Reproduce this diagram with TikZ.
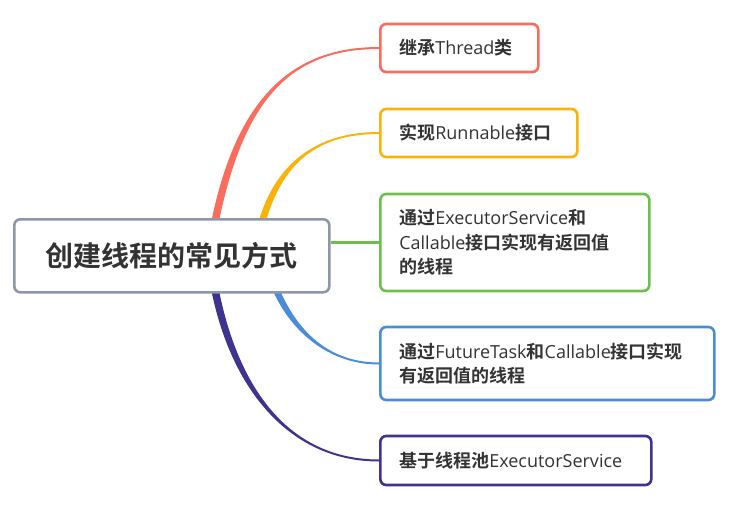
\documentclass[tikz,border=0pt]{standalone}
\usepackage{fontspec}
\setmainfont{Open Sans}
\newfontfamily\cjk{Noto Sans CJK SC}[BoldFont={Noto Sans CJK SC Bold}]
\usetikzlibrary{calc}
\newcommand\zh[1]{{\cjk\bfseries #1}}
\definecolor{cred}{HTML}{F96C5E}
\definecolor{corange}{HTML}{FBB30C}
\definecolor{cgreen}{HTML}{6CC04A}
\definecolor{cblue}{HTML}{4A8CDA}
\definecolor{cpurple}{HTML}{3E3390}
\definecolor{cgray}{HTML}{8E97A8}
\definecolor{ctext}{HTML}{333333}
\pgfdeclarelayer{bg}
\pgfsetlayers{bg,main}
% #1 colour, #2 start, #3 c1, #4 c2, #5 end, #6 half width at start, #7 end offset (outer side), #8 end offset (inner side)
\newcommand\tbranch[8]{%
  \fill[#1] ($(#2)+(-#6,0)$) .. controls ($(#3)+(-#6,0)$) and ($(#4)+(0,#7)$) .. ($(#5)+(0,#7)$)
    -- ($(#5)+(0,#8)$) .. controls ($(#4)+(0,#8)$) and ($(#3)+(#6,0)$) .. ($(#2)+(#6,0)$) -- cycle;}
\begin{document}
\begin{tikzpicture}[x=1pt,y=-1pt,
  rootbox/.style={draw=cgray, fill=white, line width=2.6pt, rounded corners=6pt,
    minimum width=315pt, minimum height=73pt, inner sep=0pt, text=ctext,
    font=\fontsize{28}{30}\selectfont},
  leaf/.style={draw=#1, fill=white, line width=2.6pt, rounded corners=6pt,
    inner xsep=19pt, inner ysep=0pt, align=left, text=ctext, anchor=west,
    font=\fontsize{18}{24.5}\selectfont}]
\useasboundingbox (0,0) rectangle (730,516);

\node[rootbox, anchor=north west] (root) at (13,218) {\zh{创建线程的常见方式}};

\node[leaf=cred, text width=120pt, minimum height=48pt] (n1) at (379,48) {\zh{继承}Thread\zh{类}};
\node[leaf=corange, text width=159pt, minimum height=48pt] (n2) at (379,133) {\zh{实现}Runnable\zh{接口}};
\node[leaf=cgreen, text width=231pt, minimum height=97pt] (n3) at (379,242.5) {\zh{通过}ExecutorService\zh{和}\\Callable\zh{接口实现有返回值}\\\zh{的线程}};
\node[leaf=cblue, text width=296pt, minimum height=73pt] (n4) at (379,363.5) {\zh{通过}FutureTask\zh{和}Callable\zh{接口实现}\\\zh{有返回值的线程}};
\node[leaf=cpurple, text width=233pt, minimum height=49pt] (n5) at (379,460.5) {\zh{基于线程池}ExecutorService};

\begin{pgfonlayer}{bg}
\coordinate (s1) at ($(root.north west)+(202,4)$);
\coordinate (s2) at ($(root.north west)+(249,4)$);
\coordinate (s4) at ($(root.south west)+(263,-4)$);
\coordinate (s5) at ($(root.south west)+(202,-4)$);
\tbranch{cred}{s1}{240,100}{290,48}{n1.west}{3.8}{-1}{1}
\tbranch{corange}{s2}{280,160}{320,133}{n2.west}{3.6}{-1}{1}
\tbranch{cblue}{s4}{295,333}{330,363.5}{n4.west}{3.6}{1}{-1}
\tbranch{cpurple}{s5}{235,390}{290,460.5}{n5.west}{3.8}{1}{-1}
\draw[cgreen, line width=3pt] (root.east |- n3.west) -- (n3.west);
\end{pgfonlayer}
\end{tikzpicture}
\end{document}
